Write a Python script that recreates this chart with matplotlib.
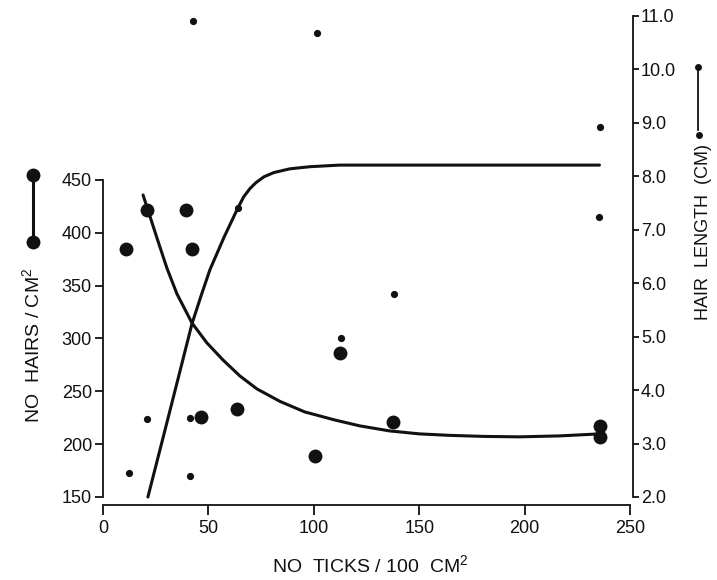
import matplotlib
matplotlib.use("Agg")
import matplotlib.pyplot as plt
from matplotlib.lines import Line2D

plt.rcParams['font.family'] = ['Liberation Sans', 'DejaVu Sans']
plt.rcParams['mathtext.default'] = 'regular'

# hair density (left axis), big dots
ticks_big = [10.9, 20.9, 39.3, 42.2, 46.4, 63.5, 100.5, 112.3, 137.4, 236.0, 236.0]
hairs_big = [384.7, 421.6, 421.6, 384.7, 225.8, 233.3, 189.0, 286.6, 221.3, 217.3, 207.1]

# hair length (right axis), small dots
ticks_small = [42.7, 101.4, 236.0, 235.1, 64.0, 137.9, 112.8, 20.9, 41.2, 12.3, 41.2]
length_small = [10.91, 10.69, 8.93, 7.24, 7.41, 5.80, 4.98, 3.46, 3.48, 2.45, 2.39]

# fitted curves
hairs_curve_x = [19.0, 21.3, 25.6, 30.3, 35.1, 42.2, 49.3, 56.9, 64.9, 73.0, 83.9,
                 95.7, 109.9, 121.8, 136.0, 150.2, 164.5, 181.0, 197.6, 216.6, 235.5]
hairs_curve_y = [435.8, 421.6, 395.1, 366.7, 342.1, 314.7, 295.8, 279.7, 264.6, 252.3, 240.5,
                 230.5, 222.9, 217.3, 212.5, 209.7, 208.3, 207.3, 206.9, 207.8, 209.7]

length_curve_x = [21.3, 29.4, 37.9, 42.2, 46.4, 50.7, 57.3, 64.0, 66.8, 69.7, 72.5, 76.3,
                  81.0, 88.6, 98.1, 112.3, 235.5]
length_curve_y = [2.00, 3.25, 4.57, 5.24, 5.75, 6.25, 6.85, 7.41, 7.62, 7.77, 7.88, 7.99,
                  8.07, 8.14, 8.18, 8.21, 8.21]

left_ticks = [150, 200, 250, 300, 350, 400, 450]
right_ticks = [2, 3, 4, 5, 6, 7, 8, 9, 10, 11]
x_ticks = [0, 50, 100, 150, 200, 250]

fig = plt.figure(figsize=(7.17, 5.80), dpi=100)
ax = fig.add_axes([103 / 717, 75 / 580, 527 / 717, 489 / 580])
ax2 = ax.twinx()

fs = 13
ink = '#111111'
lw_sp = 1.3

ax.plot(hairs_curve_x, hairs_curve_y, color=ink, lw=2.2, solid_capstyle='round', solid_joinstyle='round')
ax.plot(ticks_big, hairs_big, 'o', color=ink, ms=10, mec='none')
ax2.plot(length_curve_x, length_curve_y, color=ink, lw=2.2, solid_capstyle='round', solid_joinstyle='round')
ax2.plot(ticks_small, length_small, 'o', color=ink, ms=5.2, mec='none')

ax.set_xlim(0, 250)
ax.set_ylim(142.4, 605.2)
ax2.set_ylim(1.85, 11.0)

for a in (ax, ax2):
    a.spines['top'].set_visible(False)
    for s in a.spines.values():
        s.set_linewidth(lw_sp)
        s.set_color(ink)

ax.spines['right'].set_visible(False)
ax.spines['left'].set_bounds(150, 450)
ax.spines['bottom'].set_bounds(0, 250)
ax2.spines['left'].set_visible(False)
ax2.spines['bottom'].set_visible(False)
ax2.spines['right'].set_bounds(2, 11)
ax2.spines['right'].set_position(('outward', 2))

ax.set_xticks(x_ticks)
ax.set_xticklabels([str(t) for t in x_ticks])
ax.set_yticks(left_ticks)
ax.set_yticklabels([str(t) for t in left_ticks])
ax2.set_yticks(right_ticks)
ax2.set_yticklabels(['%.1f' % t for t in right_ticks])

ax.tick_params(axis='x', direction='out', length=7, width=lw_sp, pad=4, labelsize=fs, colors=ink)
ax.tick_params(axis='y', direction='out', length=6, width=lw_sp, pad=2, labelsize=fs, colors=ink)
ax2.tick_params(axis='y', direction='out', length=4, width=lw_sp, pad=2, labelsize=fs, colors=ink)

# axis titles
fig.text(370 / 717, 1 - 565 / 580, 'NO  TICKS / 100  CM$^{2}$', ha='center', va='center',
         fontsize=14, color=ink)
fig.text(32 / 717, 1 - 345 / 580, 'NO  HAIRS / CM$^{2}$', ha='center', va='center',
         rotation=90, fontsize=14, color=ink)
fig.text(703 / 717, 1 - 232 / 580, 'HAIR  LENGTH  (CM)', ha='center', va='center',
         rotation=90, fontsize=fs, color=ink)

# legend glyphs next to the axis titles
fig.add_artist(Line2D([33 / 717, 33 / 717], [1 - 175 / 580, 1 - 242 / 580], color=ink, lw=2.2))
fig.add_artist(Line2D([33 / 717, 33 / 717], [1 - 175 / 580, 1 - 242 / 580], ls='none', marker='o',
                      ms=10, color=ink, mec='none'))
fig.add_artist(Line2D([698 / 717, 698 / 717], [1 - 67 / 580, 1 - 130 / 580], color=ink, lw=1.3))
fig.add_artist(Line2D([698 / 717, 699 / 717], [1 - 67 / 580, 1 - 135 / 580], ls='none', marker='o',
                      ms=5, color=ink, mec='none'))

fig.savefig('out.png', dpi=100)
